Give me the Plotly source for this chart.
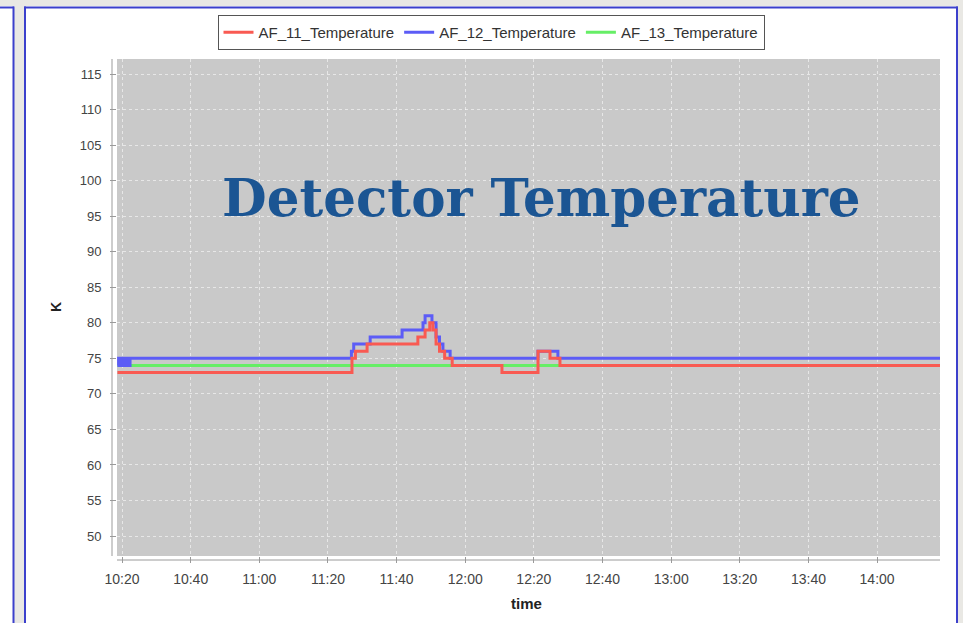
import plotly.graph_objects as go

# ---------------- data ----------------
DAY = "2010-01-01 "
af11_times = ["10:18:40", "11:27:00", "11:28:00", "11:31:24", "11:46:12", "11:48:18", "11:49:40",
              "11:50:36", "11:51:30", "11:52:30", "11:54:00", "11:56:12", "12:10:42", "12:21:12",
              "12:24:42", "12:27:36", "14:18:20"]
af11_values = [73, 75, 76, 77, 78, 79, 80, 79, 77, 76, 75, 74, 73, 76, 75, 74, 74]

af12_times = ["10:18:40", "10:19:00", "10:19:20", "10:19:40", "10:20:00", "10:20:20", "10:20:40",
              "10:21:00", "10:21:20", "10:21:40", "10:22:00", "10:22:20", "10:22:40", "11:26:50",
              "11:27:30", "11:32:18", "11:41:36", "11:47:42", "11:48:18", "11:50:18", "11:51:30",
              "11:52:30", "11:53:30", "11:55:36", "12:21:12", "12:27:00", "14:18:20"]
af12_values = [74, 75, 74, 75, 74, 75, 74, 75, 74, 75, 74, 75, 75, 76,
               77, 78, 79, 80, 81, 80, 78, 77, 76, 75, 76, 75, 75]

af13_times = ["10:18:40", "14:18:20"]
af13_values = [74, 74]

series_names = ["AF_11_Temperature", "AF_12_Temperature", "AF_13_Temperature"]
y_ticks = list(range(50, 116, 5))
title_text = "Detector Temperature"

# ---------------- layout helpers (pixel -> paper) ----------------
W, H = 963, 623
L, R, T, B = 117, 940, 59, 556
def px(x):
    return (x - L) / (R - L)
def py(y):
    return (B - y) / (B - T)

colors = {"AF_11_Temperature": "#f95a52", "AF_12_Temperature": "#5c5cf6", "AF_13_Temperature": "#66ee66"}

fig = go.Figure()
data = {"AF_11_Temperature": (af11_times, af11_values, 1),
        "AF_12_Temperature": (af12_times, af12_values, 2),
        "AF_13_Temperature": (af13_times, af13_values, 3)}
for name in reversed(series_names):  # draw green, blue, red (red on top)
    t, v, rank = data[name]
    fig.add_trace(go.Scatter(
        x=[DAY + s for s in t], y=v, name=name, mode="lines",
        line=dict(color=colors[name], width=3, shape="hv"),
        legendrank=rank))

shapes = []
gray = "#e9e8e4"
blue = "#3c40cc"
shapes.append(dict(type="rect", xref="paper", yref="paper", x0=px(0), x1=px(W), y0=py(0), y1=py(6),
                   fillcolor=gray, line_width=0, layer="below"))
shapes.append(dict(type="rect", xref="paper", yref="paper", x0=px(14), x1=px(24), y0=py(0), y1=py(H),
                   fillcolor=gray, line_width=0, layer="below"))
shapes.append(dict(type="rect", xref="paper", yref="paper", x0=px(958), x1=px(W), y0=py(0), y1=py(H),
                   fillcolor=gray, line_width=0, layer="below"))
for (x0, x1, y0, y1) in [(0, 14, 6.5, 8.5), (24, 958, 6.5, 8.5)]:
    shapes.append(dict(type="rect", xref="paper", yref="paper", x0=px(x0), x1=px(x1), y0=py(y0), y1=py(y1),
                       fillcolor=blue, line_width=0, layer="below"))
for (x0, x1) in [(12.5, 14.5), (24, 26), (956, 958)]:
    shapes.append(dict(type="rect", xref="paper", yref="paper", x0=px(x0), x1=px(x1), y0=py(6.5), y1=py(H),
                       fillcolor=blue, line_width=0, layer="below"))
# offset axis lines
shapes.append(dict(type="line", xref="paper", yref="paper", x0=px(112), x1=px(112), y0=py(T), y1=py(B),
                   line=dict(color="#9a9a9a", width=1)))
shapes.append(dict(type="line", xref="paper", yref="paper", x0=px(L), x1=px(R), y0=py(560), y1=py(560),
                   line=dict(color="#9a9a9a", width=1)))

annotations = [
    dict(text="<b>" + title_text + "</b>", xref="paper", yref="paper", x=px(541), y=py(198),
         xanchor="center", yanchor="middle", showarrow=False,
         font=dict(family="DejaVu Serif, Liberation Serif, serif", size=51.5, color="#1b5593")),
    dict(text="<b>K</b>", xref="paper", yref="paper", x=px(56), y=py(307), textangle=-90,
         xanchor="center", yanchor="middle", showarrow=False,
         font=dict(family="Liberation Sans, Arial, sans-serif", size=14, color="#222")),
    dict(text="<b>time</b>", xref="paper", yref="paper", x=px(526), y=py(603),
         xanchor="center", yanchor="middle", showarrow=False,
         font=dict(family="Liberation Sans, Arial, sans-serif", size=15, color="#222")),
]

fig.update_layout(
    width=W, height=H,
    margin=dict(l=L, r=W - R, t=T, b=H - B, autoexpand=False),
    paper_bgcolor="white",
    plot_bgcolor="#c9c9c9",
    font=dict(family="Liberation Sans, Arial, sans-serif", size=13, color="#444"),
    shapes=shapes,
    annotations=annotations,
    showlegend=True,
    legend=dict(orientation="h", x=px(491), y=py(15), xanchor="center", yanchor="top",
                bgcolor="white", bordercolor="#555", borderwidth=1,
                font=dict(size=15, color="#333"), itemwidth=30, tracegroupgap=0),
    xaxis=dict(
        type="date",
        range=[DAY + "10:18:32", DAY + "14:18:20"],
        tick0=DAY + "10:20", dtick=20 * 60 * 1000, tickformat="%H:%M",
        showgrid=True, gridcolor="rgba(255,255,255,0.55)", griddash="dot", gridwidth=1,
        ticks="outside", ticklen=6, tickcolor="#9a9a9a", ticklabelstandoff=4,
        showline=False, zeroline=False,
        tickfont=dict(size=14, color="#444"),
    ),
    yaxis=dict(
        range=[47.19, 117.11],
        tickvals=y_ticks,
        showgrid=True, gridcolor="rgba(255,255,255,0.55)", griddash="dot", gridwidth=1,
        ticks="outside", ticklen=6, tickcolor="#9a9a9a", ticklabelstandoff=6,
        showline=False, zeroline=False,
        tickfont=dict(size=13, color="#444"),
    ),
)

fig.write_html("out.html", config={"displayModeBar": False},
               post_script="document.body.style.margin='0px';")
